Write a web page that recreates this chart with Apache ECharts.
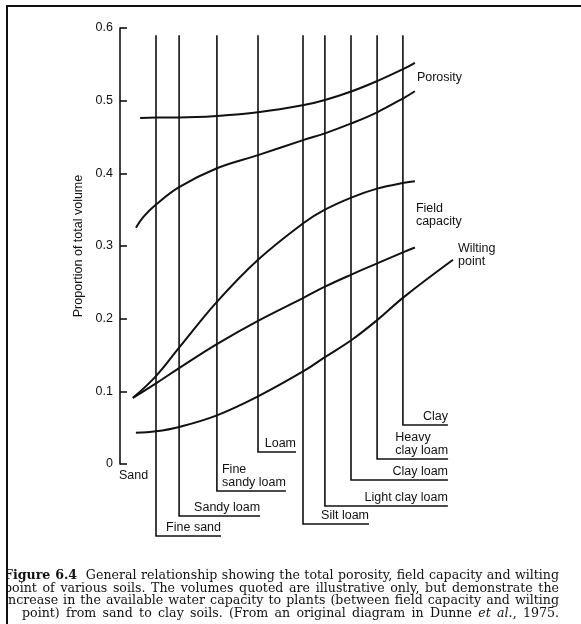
<!DOCTYPE html>
<html><head><meta charset="utf-8">
<script src="https://cdn.jsdelivr.net/npm/echarts@6/dist/echarts.min.js"></script>
<style>
html,body{margin:0;padding:0;width:581px;height:624px;overflow:hidden;background:#fff;}
#chart{position:absolute;left:0;top:0;width:581px;height:624px;}
#capwrap{position:absolute;left:8px;top:569px;width:573px;height:55px;overflow:hidden;}
#cap{position:absolute;left:-4px;top:0;width:555px;font-family:"DejaVu Serif",serif;font-size:12.6px;line-height:12.6px;color:#111;}
#cap div{text-align:justify;text-align-last:justify;white-space:nowrap;}
#cap div.l4{padding-left:18px;}
</style></head>
<body>
<div id="chart"></div>
<div id="capwrap"><div id="cap">
<div><b>Figure 6.4</b>&nbsp; General relationship showing the total porosity, field capacity and wilting</div>
<div>point of various soils. The volumes quoted are illustrative only, but demonstrate the</div>
<div>increase in the available water capacity to plants (between field capacity and wilting</div>
<div class="l4">point) from sand to clay soils. (From an original diagram in Dunne <i>et al.</i>, 1975.</div>
</div></div>
<script>
// ---------- data ----------
const yTickLabels = ['0', '0.1', '0.2', '0.3', '0.4', '0.5', '0.6'];
const soilNames = ['Sand', 'Fine sand', 'Sandy loam', 'Fine\nsandy loam', 'Loam', 'Silt loam',
  'Light clay loam', 'Clay loam', 'Heavy\nclay loam', 'Clay'];
const soilPos = [0, 12, 19.7, 32.3, 46, 61, 68.3, 77, 85.7, 94.3];

const porosityHigh = [[6.7,0.476],[12,0.477],[19.7,0.477],[32.3,0.479],[46,0.484],[61.3,0.494],
  [68.3,0.501],[77.3,0.513],[85.7,0.527],[94.7,0.544],[98.3,0.552]];
const porosityLow = [[5.3,0.325],[7.8,0.340],[12,0.357],[19.7,0.381],[32.3,0.407],[46,0.425],
  [61.3,0.446],[68.3,0.455],[77.3,0.469],[85.7,0.484],[94.7,0.504],[98.3,0.513]];
const fieldCapacity = [[4.3,0.091],[12,0.121],[19.7,0.160],[32.3,0.223],[46,0.281],[61.3,0.332],
  [68.3,0.350],[77.3,0.367],[85.7,0.379],[94.7,0.387],[98.3,0.389]];
const middleCurve = [[4.3,0.091],[12,0.111],[19.7,0.132],[32.3,0.165],[46,0.197],[61.3,0.229],
  [68.3,0.244],[77.3,0.261],[85.7,0.276],[94.7,0.292],[98.3,0.298]];
const wiltingPoint = [[5.3,0.043],[12,0.045],[19.7,0.051],[32.3,0.067],[46,0.093],[61.3,0.128],
  [68.3,0.147],[77.3,0.171],[85.7,0.198],[94.7,0.230],[111,0.281]];
const leaderTop = 0.59;

// ---------- layout (pixels) ----------
const leaderDrop  = [0, 72, 52, 27, -12, 60, 42, 16, -5, -39];
const leaderReach = [0, 65, 81, 69, 38, 66, 123, 97, 71, 45];

const FONT_FAMILY = '"Liberation Sans", Arial, sans-serif';
const LABEL_FONT = '12.5px ' + FONT_FAMILY;
const INK = '#111';
const mctx = document.createElement('canvas').getContext('2d');
mctx.font = LABEL_FONT;

function renderSoil(params, api) {
  const pos = api.value(0);
  const i = api.value(1);
  const top = api.coord([pos, leaderTop]);
  const x = top[0], yTop = top[1];
  const y0 = api.coord([pos, 0])[1];
  const children = [];
  if (i === 0) {
    children.push({type: 'text', style: {text: soilNames[i], x: x - 1, y: y0 + 12,
      align: 'left', verticalAlign: 'middle', font: LABEL_FONT, fill: INK}});
    return {type: 'group', children};
  }
  const yb = y0 + leaderDrop[i];
  const xe = x + leaderReach[i];
  children.push({type: 'polyline', shape: {points: [[x, yTop], [x, yb], [xe, yb]]},
    style: {stroke: INK, lineWidth: 1.6, fill: null}});
  const lines = soilNames[i].split('\n');
  const w = Math.max.apply(null, lines.map(l => mctx.measureText(l).width));
  children.push({type: 'text', style: {text: soilNames[i], x: xe - w, y: yb - 2,
    align: 'left', verticalAlign: 'bottom', font: LABEL_FONT, lineHeight: 13, fill: INK}});
  return {type: 'group', children};
}

function curve(name, data, endLabel) {
  const s = {name, type: 'line', data, smooth: 0.4, symbol: 'none', silent: true,
    lineStyle: {color: INK, width: 2}, clip: false};
  if (endLabel) s.endLabel = Object.assign({show: true, color: INK, fontSize: 12.5,
    fontFamily: FONT_FAMILY, align: 'left', verticalAlign: 'middle', lineHeight: 13}, endLabel);
  return s;
}

const chart = echarts.init(document.getElementById('chart'), null, {renderer: 'canvas'});
chart.setOption({
  animation: false,
  backgroundColor: '#fff',
  grid: {left: 120, top: 28, width: 360, height: 436, containLabel: false},
  xAxis: {type: 'value', min: 0, max: 120, show: false},
  yAxis: {
    type: 'value', min: 0, max: 0.6, interval: 0.1,
    axisLine: {show: true, lineStyle: {color: INK, width: 1.6}},
    axisTick: {show: true, inside: true, length: 7, lineStyle: {color: INK, width: 1.6}},
    splitLine: {show: false},
    axisLabel: {margin: 7, color: INK, fontSize: 12.5, fontFamily: FONT_FAMILY,
      formatter: (v) => yTickLabels[Math.round(v * 10)]},
    name: 'Proportion of total volume', nameLocation: 'middle', nameGap: 33, nameRotate: 90,
    nameTextStyle: {color: INK, fontSize: 12.5, fontFamily: FONT_FAMILY}
  },
  graphic: [
    {type: 'line', shape: {x1: 6, y1: 6, x2: 581, y2: 6}, style: {stroke: INK, lineWidth: 2}},
    {type: 'line', shape: {x1: 7, y1: 5, x2: 7, y2: 624}, style: {stroke: INK, lineWidth: 2}}
  ],
  series: [
    {type: 'custom', name: 'soils', data: soilPos.map((p, i) => [p, i]), renderItem: renderSoil,
      clip: false, silent: true, encode: {x: 0, y: -1}},
    curve('Porosity (upper)', porosityHigh, {formatter: 'Porosity', distance: 2, offset: [0, 15]}),
    curve('Porosity (lower)', porosityLow),
    curve('Field capacity', fieldCapacity, {formatter: 'Field\ncapacity', distance: 1, offset: [0, 34]}),
    curve('Middle', middleCurve),
    curve('Wilting point', wiltingPoint, {formatter: 'Wilting\npoint', distance: 5, offset: [0, -5]})
  ]
});
</script>
</body></html>
